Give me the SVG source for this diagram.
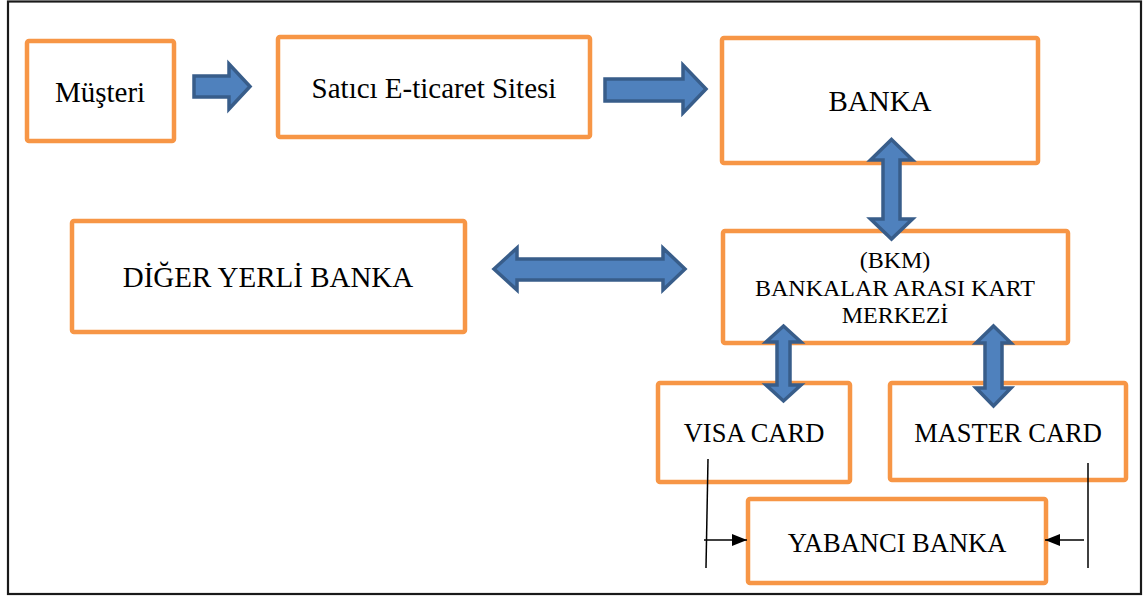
<svg xmlns="http://www.w3.org/2000/svg" width="1144" height="599" viewBox="0 0 1144 599">
<style>
.box{fill:#fff;stroke:#F79646;stroke-width:4.5}
.t{font-family:"Liberation Serif","Times New Roman",serif;fill:#000;text-anchor:middle}
.t29{font-size:29px}
.t26{font-size:26.5px}
.t24{font-size:24px}
.blk{fill:#4F81BD;stroke:#385D8A;stroke-width:3.5;stroke-linejoin:miter}
.ln{stroke:#000;stroke-width:1.5;fill:none}
</style>
<defs>
<marker id="ah" markerUnits="userSpaceOnUse" markerWidth="15" markerHeight="12" refX="15" refY="6" orient="auto">
<path d="M0,0 L15,6 L0,12 Z" fill="#000"/>
</marker>
</defs>
<rect x="8" y="1.5" width="1133" height="592.5" fill="#fff" stroke="#1a1a1a" stroke-width="2.2"/>
<g id="musteri"><rect class="box" x="27" y="41" width="147" height="100" rx="2"/><text class="t t29" x="100" y="102">Müşteri</text></g>
<g id="satici"><rect class="box" x="278" y="37" width="312" height="100" rx="2"/><text class="t t29" x="434" y="98">Satıcı E-ticaret Sitesi</text></g>
<g id="banka"><rect class="box" x="722" y="38" width="316" height="125" rx="2"/><text class="t t29" x="880" y="111">BANKA</text></g>
<g id="diger"><rect class="box" x="72" y="221" width="393" height="111" rx="2"/><text class="t t29" x="268" y="287">DİĞER YERLİ BANKA</text></g>
<g id="bkm"><rect class="box" x="723" y="231" width="345" height="112" rx="2"/>
<text class="t t24" x="895" y="268">(BKM)</text>
<text class="t t24" x="895" y="296">BANKALAR ARASI KART</text>
<text class="t t24" x="895" y="323">MERKEZİ</text></g>
<g id="visa"><rect class="box" x="658" y="383" width="192" height="99" rx="2"/><text class="t t26" x="754" y="442">VISA CARD</text></g>
<g id="master"><rect class="box" x="890" y="383" width="236" height="97" rx="2"/><text class="t t26" x="1008" y="442">MASTER CARD</text></g>
<g id="yabanci"><rect class="box" x="748" y="499" width="298" height="84" rx="2"/><text class="t t26" x="897" y="552">YABANCI BANKA</text></g>
<g id="connectors">
<path class="blk" d="M194,76 H229 V64 L250,86.5 L229,109 V97 H194 Z"/>
<path class="blk" d="M605,79 H683 V65 L706,89 L683,113 V101 H605 Z"/>
<path class="blk" d="M891.5,139.5 L912.5,160 H900 V219 H912.5 L891.5,239 L870.5,219 H883 V160 H870.5 Z"/>
<path class="blk" d="M494,269 L517,248 V259 H663 V248 L685,269 L663,290 V280 H517 V290 Z"/>
<path class="blk" d="M783.5,326 L801,342 H790 V385 H801 L783.5,401 L766,385 H777 V342 H766 Z"/>
<path class="blk" d="M993.5,326 L1011,343 H1002 V388 H1011 L993.5,406 L976,388 H985 V343 H976 Z"/>
<line class="ln" x1="708" y1="459" x2="706" y2="568"/>
<line class="ln" x1="704" y1="540" x2="747" y2="540" marker-end="url(#ah)"/>
<line class="ln" x1="1088" y1="463" x2="1088" y2="568"/>
<line class="ln" x1="1084" y1="540" x2="1045" y2="540" marker-end="url(#ah)"/>
</g>
</svg>
